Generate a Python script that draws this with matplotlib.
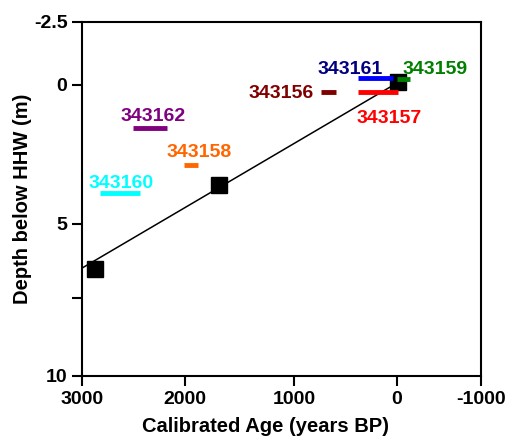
import numpy as np
import matplotlib
matplotlib.use('Agg')
import matplotlib.pyplot as plt

plt.rcParams['font.family'] = ['Liberation Sans', 'DejaVu Sans']
plt.rcParams['font.weight'] = 'bold'

# calibrated age ranges (years BP) and depths of the dated samples
sample_ids = ['343161', '343159', '343156', '343157', '343162', '343158', '343160']
age_old = [376, 3, 738, 382, 2506, 2010, 2830]
age_young = [36, -155, 592, -8, 2177, 1883, 2442]
sample_depth = [-0.27, -0.25, 0.26, 0.26, 1.56, 2.88, 3.9]
bar_colors = ['#0000ff', '#008000', '#800000', '#ff0000', '#800080', '#ff6600', '#00ffff']
text_colors = ['#000080', '#008000', '#800000', '#ff0000', '#800080', '#ff6600', '#00ffff']
# label offsets (points) from bar middle to the text baseline centre
label_dx = [-18.6, 23, -34.2, 8.1, 2.4, 5.5, 1.2]
label_dy = [3.1, 3.4, -4.1, -22.1, 5.5, 6.0, 3.6]

# black squares (age-depth points) and the line through them
point_age = [2871, 1688, -10]
point_depth = [6.52, 3.58, -0.1]
fit_age = [3000, -10]
fit_depth = [6.49, -0.1]

x_ticks = [3000, 2000, 1000, 0, -1000]
y_ticks = [-2.5, 0, 5, 7.5, 10]
y_ticklabels = ['-2.5', '0', '5', '', '10']

# the original axes are unevenly spaced between ticks, so use a
# piecewise scale through the tick marks
x_knot_vals = np.array([-1000, 0, 1000, 2000, 3000])
x_knot_pos = np.array([0, 84, 187, 296, 399.3])
y_knot_vals = np.array([-2.5, 0, 5, 7.5, 10])
y_knot_pos = np.array([0, 63, 202, 276, 354])


def x_fwd(v):
	return np.interp(v, x_knot_vals, x_knot_pos)


def x_inv(p):
	return np.interp(p, x_knot_pos, x_knot_vals)


def y_fwd(v):
	return np.interp(v, y_knot_vals, y_knot_pos)


def y_inv(p):
	return np.interp(p, y_knot_pos, y_knot_vals)


fig = plt.figure(figsize=(5.05, 4.37), dpi=100)
ax = fig.add_axes([0.1624, 0.1396, 0.7901, 0.8101])
ax.set_xscale('function', functions=(x_fwd, x_inv))
ax.set_yscale('function', functions=(y_fwd, y_inv))

ax.plot(fit_age, fit_depth, color='black', lw=1.1, zorder=2)
ax.plot(point_age, point_depth, 's', color='black', ms=11, zorder=3)

ax.hlines(sample_depth, age_old, age_young, colors=bar_colors, lw=3.5, zorder=4)

for i in range(len(sample_ids)):
	mid = (age_old[i] + age_young[i]) / 2
	ax.annotate(sample_ids[i], (mid, sample_depth[i]), xytext=(label_dx[i], label_dy[i]),
		textcoords='offset points', ha='center', va='baseline',
		color=text_colors[i], fontsize=14, fontweight='bold')

ax.set_xlim(3000, -1000)
ax.set_ylim(10, -2.5)
ax.set_xticks(x_ticks)
ax.set_xticklabels([str(t) for t in x_ticks])
ax.set_yticks(y_ticks)
ax.set_yticklabels(y_ticklabels)
ax.minorticks_off()

for s in ax.spines.values():
	s.set_linewidth(1.5)
ax.tick_params(length=7.5, width=1.5, labelsize=14, pad=3)

ax.set_xlabel('Calibrated Age (years BP)', fontsize=14.5, fontweight='bold', labelpad=6.5)
ax.xaxis.label.set_x(0.461)
ax.set_ylabel('Depth below HHW (m)', fontsize=14.5, fontweight='bold', labelpad=1.5)

fig.savefig('out.png', dpi=100)
